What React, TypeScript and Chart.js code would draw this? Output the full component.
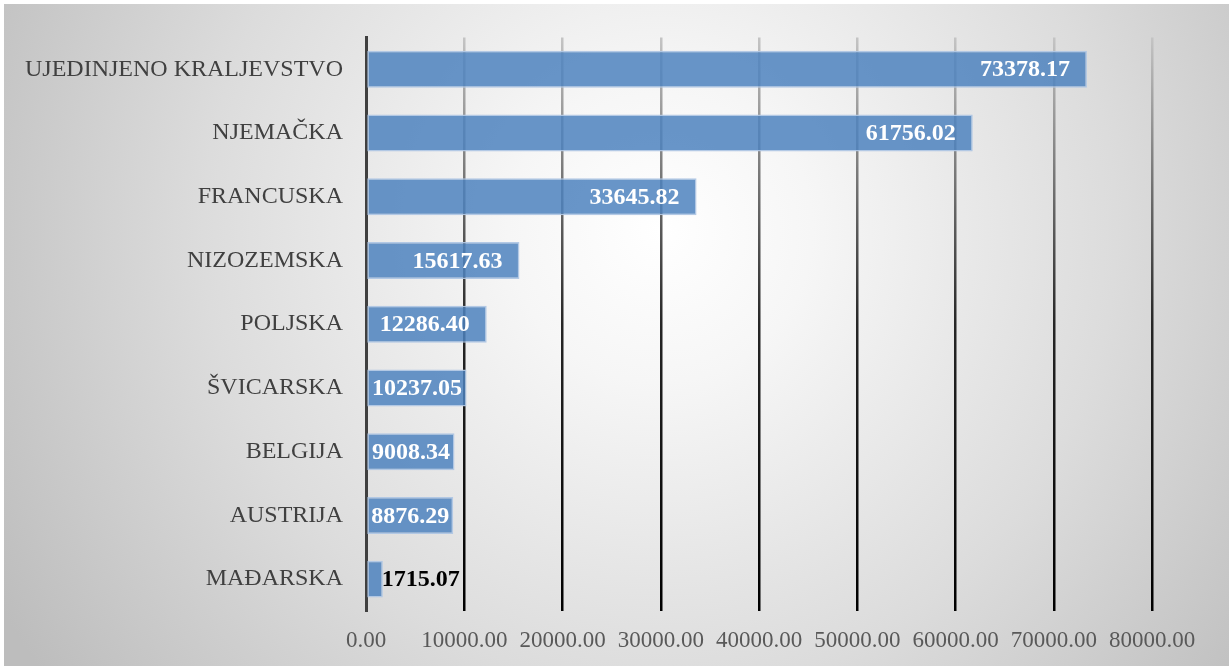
import React, { useEffect, useRef } from "react";
import { Chart, registerables } from "chart.js";

Chart.register(...registerables);

const categories = [
  "UJEDINJENO KRALJEVSTVO",
  "NJEMAČKA",
  "FRANCUSKA",
  "NIZOZEMSKA",
  "POLJSKA",
  "ŠVICARSKA",
  "BELGIJA",
  "AUSTRIJA",
  "MAĐARSKA",
];
const values = [73378.17, 61756.02, 33645.82, 15617.63, 12286.4, 10237.05, 9008.34, 8876.29, 1715.07];
const xMin = 0;
const xMax = 80000;
const xStep = 10000;

const W = 1232;
const H = 666;
const SERIF = "'Liberation Serif', 'Times New Roman', serif";

const backgroundPlugin = {
  id: "bgPanel",
  beforeDraw(chart: any) {
    const ctx = chart.ctx as CanvasRenderingContext2D;
    ctx.save();
    ctx.fillStyle = "#ffffff";
    ctx.fillRect(0, 0, W, H);
    const g = ctx.createRadialGradient(660, 230, 0, 660, 230, 760);
    g.addColorStop(0, "#ffffff");
    g.addColorStop(0.2, "#f6f6f6");
    g.addColorStop(0.6, "#dcdcdc");
    g.addColorStop(1, "#bdbdbd");
    ctx.fillStyle = g;
    ctx.fillRect(4, 4, 1225, H - 4);
    ctx.restore();
  },
};

const labelPlugin = {
  id: "barLabels",
  afterDatasetsDraw(chart: any) {
    const ctx = chart.ctx as CanvasRenderingContext2D;
    const meta = chart.getDatasetMeta(0);
    ctx.save();
    ctx.font = `bold 24px ${SERIF}`;
    ctx.textBaseline = "middle";
    ctx.textAlign = "left";
    meta.data.forEach((el: any, i: number) => {
      const v = values[i];
      const txt = v.toFixed(2);
      const tw = ctx.measureText(txt).width;
      const start = el.base;
      const end = el.x;
      const bw = end - start;
      if (bw < tw + 2) {
        ctx.fillStyle = "#000000";
        ctx.fillText(txt, end - 1, el.y + 1);
      } else {
        let tx = end - 17 - tw;
        if (tx < start + 8) tx = start + (bw - tw) / 2;
        ctx.fillStyle = "#ffffff";
        ctx.fillText(txt, tx, el.y + 1);
      }
    });
    ctx.restore();
  },
};

export default function App() {
  const ref = useRef<HTMLCanvasElement | null>(null);
  useEffect(() => {
    if (!ref.current) return;
    const chart = new Chart(ref.current, {
      type: "bar",
      data: {
        labels: categories,
        datasets: [
          {
            data: values,
            backgroundColor: "rgba(78,131,190,0.85)",
            borderColor: "rgba(175,198,228,0.95)",
            borderWidth: 1.5,
            borderSkipped: false,
            categoryPercentage: 1,
            barPercentage: 0.58,
          },
        ],
      },
      options: {
        indexAxis: "y",
        responsive: false,
        maintainAspectRatio: false,
        animation: false,
        devicePixelRatio: 1,
        layout: { padding: { left: 0, right: 80, top: 33, bottom: 0 } },
        plugins: {
          legend: { display: false },
          tooltip: { enabled: false },
          title: { display: false },
        },
        scales: {
          x: {
            type: "linear",
            min: xMin,
            max: xMax,
            ticks: {
              stepSize: xStep,
              color: "#595959",
              font: { family: SERIF, size: 23 },
              padding: 16,
              callback: (v: any) => Number(v).toFixed(2),
              maxRotation: 0,
              autoSkip: false,
            },
            border: { display: false },
            grid: {
              drawTicks: false,
              lineWidth: 2.5,
              color: (c: any) => {
                if (c.index === 0) return "rgba(0,0,0,0)";
                const area = c.chart.chartArea;
                if (!area) return "#000";
                const g = c.chart.ctx.createLinearGradient(0, area.top, 0, area.bottom);
                g.addColorStop(0, "#c4c4c4");
                g.addColorStop(0.5, "#262626");
                g.addColorStop(1, "#000000");
                return g;
              },
            },
            afterFit: (s: any) => {
              s.height = 55;
            },
          },
          y: {
            ticks: {
              color: "#404040",
              font: { family: SERIF, size: 24 },
              padding: 23,
            },
            grid: { display: false, drawTicks: false },
            border: { display: true, color: "#404040", width: 3 },
            afterFit: (s: any) => {
              s.width = 366;
            },
          },
        },
      },
      plugins: [backgroundPlugin, labelPlugin],
    });
    return () => chart.destroy();
  }, []);
  return (
    <div style={{ position: "fixed", left: 0, top: 0, width: W, height: H }}>
      <canvas ref={ref} width={W} height={H} style={{ display: "block", width: W, height: H }} />
    </div>
  );
}
